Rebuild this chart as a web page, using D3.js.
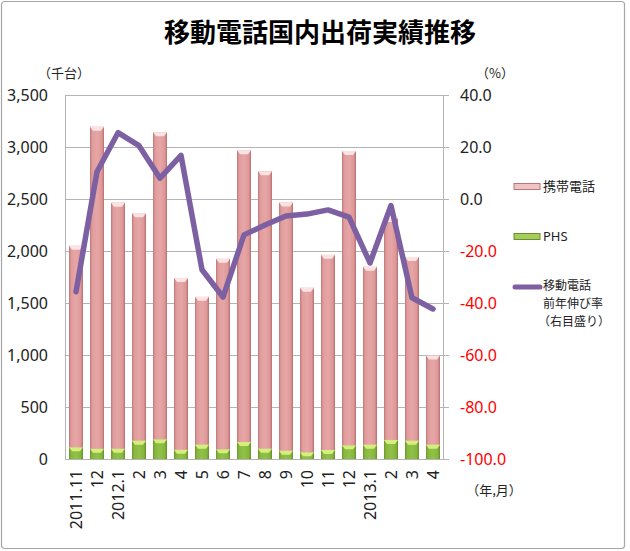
<!DOCTYPE html>
<html><head><meta charset="utf-8">
<script src="https://cdn.jsdelivr.net/npm/d3@7"></script>
<style>body{margin:0;background:#fff}svg{display:block}</style>
</head><body>
<script>
const months = ["2011.11","12","2012.1","2","3","4","5","6","7","8","9","10","11","12","2013.1","2","3","4"];
const phs    = [112,98,98,176,189,88,138,93,163,99,80,64,87,132,138,183,176,138];
const mobile = [1938,3097,2367,2186,2953,1653,1421,1832,2805,2669,2386,1582,1876,2829,1710,2134,1766,857];
const growth = [-35.7,10.5,25.5,20.5,8.0,16.8,-27.2,-37.7,-13.8,-10.0,-6.5,-5.8,-4.2,-7.0,-24.6,-2.5,-38.0,-42.3];
const leftTicks = [0,500,1000,1500,2000,2500,3000,3500];
const rightTicks = [-100,-80,-60,-40,-20,0,20,40];

const W=630,H=551;
const svg=d3.select("body").append("svg").attr("width",W).attr("height",H);
const defs=svg.append("defs");
function grad(id,stops){const g=defs.append("linearGradient").attr("id",id).attr("x1","0").attr("x2","1").attr("y1","0").attr("y2","0");
 stops.forEach(s=>g.append("stop").attr("offset",s[0]).attr("stop-color",s[1]));}
grad("gp",[[0,"#bf7676"],[0.15,"#df9c9c"],[0.5,"#e7a6a6"],[0.85,"#de9797"],[1,"#b56e6e"]]);
grad("gg",[[0,"#6b972a"],[0.15,"#88b640"],[0.5,"#92c149"],[0.85,"#86b53d"],[1,"#628d28"]]);

svg.append("rect").attr("x",1.5).attr("y",1.5).attr("width",623).attr("height",547).attr("rx",3)
  .attr("fill","#fff").attr("stroke","#a6a6a6").attr("stroke-width",1.2);

const font="'Noto Sans','Noto Sans CJK JP',sans-serif";
const jfont="'Noto Sans CJK JP','Noto Sans',sans-serif";

const x=d3.scaleBand().domain(d3.range(months.length)).range([65.5,443.5]).paddingInner(0.333).paddingOuter(0.1667);
const yL=d3.scaleLinear().domain([0,3500]).range([459,95]);
const yR=d3.scaleLinear().domain([-100,40]).range([459,95]);

const g=svg.append("g");
g.selectAll("line.grid").data(leftTicks.filter(d=>d>0)).join("line")
 .attr("x1",65.5).attr("x2",449).attr("y1",d=>Math.round(yL(d))+0.5).attr("y2",d=>Math.round(yL(d))+0.5)
 .attr("stroke","#b4b4b4").attr("stroke-width",1);
g.append("line").attr("x1",65.5).attr("x2",65.5).attr("y1",95).attr("y2",459.5).attr("stroke","#b4b4b4");
g.append("line").attr("x1",443.5).attr("x2",443.5).attr("y1",95).attr("y2",459.5).attr("stroke","#b4b4b4");
g.append("line").attr("x1",65.5).attr("x2",449).attr("y1",459.5).attr("y2",459.5).attr("stroke","#b4b4b4");
g.selectAll("line.rt").data(rightTicks).join("line").attr("x1",443.5).attr("x2",449)
 .attr("y1",d=>Math.round(yR(d))+0.5).attr("y2",d=>Math.round(yR(d))+0.5).attr("stroke","#b4b4b4");

svg.append("g").selectAll("text").data(leftTicks).join("text")
 .attr("x",48).attr("y",d=>yL(d)).attr("dy","0.36em").attr("text-anchor","end")
 .attr("font-family",font).attr("font-size",16).attr("fill","#222").text(d=>d3.format(",")(d));
svg.append("g").selectAll("text").data(rightTicks).join("text")
 .attr("x",460).attr("y",d=>yR(d)).attr("dy","0.36em").attr("text-anchor","start")
 .attr("font-family",font).attr("font-size",16).attr("fill",d=>d<0?"#ff0000":"#222").text(d=>d.toFixed(1));

const bw=x.bandwidth();
const bars=svg.append("g");
months.forEach((m,i)=>{
  const x0=x(i);
  const yg=yL(phs[i]), yt=yL(phs[i]+mobile[i]);
  bars.append("rect").attr("x",x0).attr("y",yg).attr("width",bw).attr("height",459-yg).attr("fill","url(#gg)");
  bars.append("path").attr("d",`M${x0},${yg}L${x0+bw},${yg}L${x0+bw-3},${yg+4}L${x0+3},${yg+4}Z`).attr("fill","#d4f07a");
  bars.append("rect").attr("x",x0).attr("y",yt).attr("width",bw).attr("height",yg-yt).attr("fill","url(#gp)");
  bars.append("path").attr("d",`M${x0},${yt}L${x0+bw},${yt}L${x0+bw-3},${yt+4}L${x0+3},${yt+4}Z`).attr("fill","#fbe3e3");
});

const line=d3.line().x((d,i)=>x(i)+bw/2).y(d=>yR(d));
svg.append("path").datum(growth).attr("d",line).attr("fill","none").attr("stroke","#7d60a2")
 .attr("stroke-width",5.5).attr("stroke-linejoin","round").attr("stroke-linecap","round");

svg.append("g").selectAll("text").data(months).join("text")
 .attr("transform",(d,i)=>`translate(${x(i)+bw/2},470) rotate(-90)`)
 .attr("text-anchor","end").attr("dy","0.36em")
 .attr("font-family",font).attr("font-size",16).attr("fill","#222").text(d=>d);

svg.append("text").attr("x",320).attr("y",42).attr("text-anchor","middle").attr("font-family",jfont)
 .attr("font-size",26).attr("font-weight","bold").attr("fill","#000").text("移動電話国内出荷実績推移");
svg.append("text").attr("x",64).attr("y",73).attr("dy","0.36em").attr("text-anchor","middle").attr("font-family",jfont)
 .attr("font-size",13).attr("fill","#222").text("（千台）");
svg.append("text").attr("x",495).attr("y",73).attr("dy","0.36em").attr("text-anchor","middle").attr("font-family",jfont)
 .attr("font-size",13).attr("fill","#222").text("（%）");
svg.append("text").attr("x",494).attr("y",490).attr("dy","0.36em").attr("text-anchor","middle").attr("font-family",jfont)
 .attr("font-size",13).attr("fill","#222").text("（年,月）");

const lg=svg.append("g");
lg.append("rect").attr("x",514).attr("y",183.5).attr("width",26).attr("height",6).attr("fill","#f0c4c4").attr("stroke","#b97878");
lg.append("text").attr("x",543).attr("y",186.5).attr("dy","0.36em").attr("font-family",jfont).attr("font-size",13).attr("fill","#222").text("携帯電話");
lg.append("rect").attr("x",514).attr("y",233.5).attr("width",26).attr("height",6).attr("fill","#a6cc5c").attr("stroke","#6a8f2e");
lg.append("text").attr("x",543).attr("y",236.5).attr("dy","0.36em").attr("font-family",font).attr("font-size",13).attr("fill","#222").text("PHS");
lg.append("line").attr("x1",515).attr("x2",540).attr("y1",287).attr("y2",287).attr("stroke","#7d60a2").attr("stroke-width",5).attr("stroke-linecap","round");
["移動電話","前年伸び率","（右目盛り）"].forEach((t,i)=>{
  lg.append("text").attr("x",t.startsWith("（")?538:543).attr("y",286+i*17.8).attr("dy","0.36em")
    .attr("font-family",jfont).attr("font-size",12).attr("fill","#222").text(t);
});
</script>
</body></html>
